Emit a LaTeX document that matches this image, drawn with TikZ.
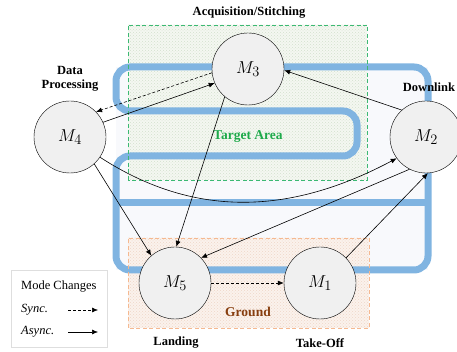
\documentclass[tikz,border=0pt]{standalone}
\usepackage{fontspec}
\setmainfont{Liberation Serif}
\usetikzlibrary{arrows.meta, positioning, patterns}

\definecolor{pathblue}{RGB}{128,180,225}
\definecolor{loopfill}{RGB}{248,249,252}
\definecolor{areagreen}{RGB}{60,185,115}
\definecolor{areatext}{RGB}{30,170,75}
\definecolor{areafill}{RGB}{244,247,241}
\definecolor{areadots}{RGB}{210,225,205}
\definecolor{groundline}{RGB}{245,185,145}
\definecolor{groundfill}{RGB}{251,242,236}
\definecolor{grounddots}{RGB}{238,215,200}
\definecolor{groundtext}{RGB}{135,62,15}
\definecolor{modefill}{RGB}{240,240,240}
\definecolor{legendline}{RGB}{222,222,222}

\begin{document}
\begin{tikzpicture}[x=1pt, y=1pt,
    mode/.style={circle, draw, fill=modefill, minimum size=72pt, inner sep=0pt, font=\fontsize{19}{19}\selectfont},
    tag/.style={font=\fontsize{12.5}{13.5}\selectfont\bfseries, align=center},
    area/.style={font=\fontsize{13.5}{14}\selectfont\bfseries},
    legtext/.style={anchor=west, font=\fontsize{12.5}{13}\selectfont, inner sep=0pt},
    async/.style={-{Latex[length=6pt,width=5pt]}, line width=0.6pt},
    sync/.style={async, dash pattern=on 3pt off 2pt}]

    \useasboundingbox (0,0) rectangle (457,352);

    % regions
    \fill[loopfill] (116,82) rectangle (428,285);
    \fill[areafill, postaction={pattern=crosshatch dots, pattern color=areadots}] (128,172) rectangle (367,327);
    \fill[groundfill, postaction={pattern=crosshatch dots, pattern color=grounddots}] (128,24) rectangle (369,114);

    % flight path
    \draw[pathblue, line width=7pt, rounded corners=14pt]
        (270,82) -- (428,82) -- (428,285) -- (116,285) -- (116,241) -- (357,241)
        -- (357,196) -- (116,196) -- (116,82) -- cycle;
    \draw[pathblue, line width=7pt, rounded corners=10pt] (116,149) -- (428,149);

    \draw[areagreen, line width=0.8pt, dash pattern=on 4pt off 2.5pt] (128,172) rectangle (367,327);
    \draw[groundline, line width=0.8pt, dash pattern=on 4pt off 2.5pt] (128,24) rectangle (369,114);

    \node[area, text=areatext] (target) at (248,215) {Target Area};
    \node[area, text=groundtext] (ground) at (248,40) {Ground};

    % modes
    \node[mode] (m3) at (248,283) {$M_3$};
    \node[mode] (m2) at (426,215) {$M_2$};
    \node[mode] (m4) at (70,215) {$M_4$};
    \node[mode] (m5) at (175,69) {$M_5$};
    \node[mode] (m1) at (320,69) {$M_1$};

    \node[tag] (acq) at (249,339) {Acquisition/Stitching};
    \node[tag] (proc) at (70,273) {Data\\Processing};
    \node[tag] (down) at (429,265) {Downlink};
    \node[tag] (land) at (176,9) {Landing};
    \node[tag] (takeoff) at (320,9) {Take-Off};

    % mode changes
    \draw[sync] (m3.186) -- (m4.44);
    \draw[async] (m4.24) -- (m3.203);
    \draw[async] (m2.132) -- (m3.358);
    \draw[async] (m4.326) to[out=-33, in=208] (m2.216);
    \draw[async] (m4.312) -- (m5.131);
    \draw[async] (m3.230) -- (m5.88);
    \draw[async] (m2.243) -- (m5.44);
    \draw[sync] (m5) -- (m1);
    \draw[async] (m1.44) -- (m2.273);

    % legend
    \node[draw=legendline, line width=0.6pt, minimum width=96pt, minimum height=77pt] (legend) at (59,43.5) {};
    \node[legtext] (modechg) at (21,65) {Mode Changes};
    \node[legtext] (synclbl) at (21,42) {\textit{Sync.}};
    \node[legtext] (asynclbl) at (21,20) {\textit{Async.}};
    \coordinate (s0) at (68,42);
    \coordinate (s1) at (98,42);
    \coordinate (a0) at (68,20);
    \coordinate (a1) at (98,20);
    \draw[sync] (s0) -- (s1);
    \draw[async] (a0) -- (a1);
\end{tikzpicture}
\end{document}
